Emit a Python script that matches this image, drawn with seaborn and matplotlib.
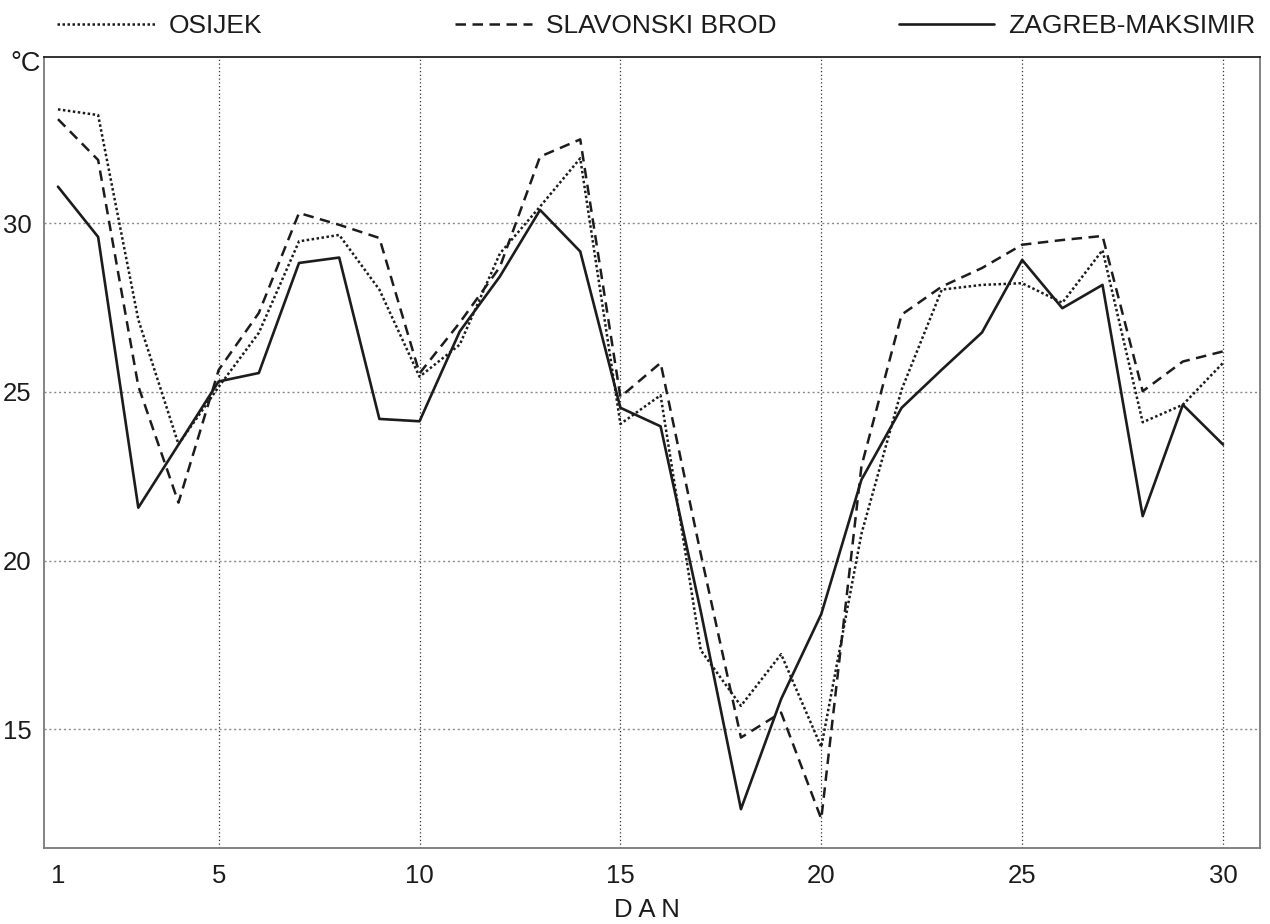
import matplotlib
matplotlib.use("Agg")
import matplotlib.pyplot as plt
import seaborn as sns
import pandas as pd

# Daily air temperature (°C) per station
days = list(range(1, 31))
osijek = [33.37, 33.2, 27.14, 23.45, 25.15, 26.75, 29.46, 29.65, 28.03, 25.45,
          26.4, 29.1, 30.49, 31.92, 24.05, 24.9, 17.35, 15.7, 17.23, 14.48,
          20.8, 25.07, 28.03, 28.17, 28.22, 27.64, 29.2, 24.1, 24.62, 25.86]
slavonski_brod = [33.08, 31.87, 25.17, 21.72, 25.65, 27.34, 30.3, 29.95, 29.56, 25.55,
                  27.05, 28.7, 31.97, 32.48, 24.85, 25.86, 20.2, 14.76, 15.5, 12.35,
                  22.8, 27.29, 28.12, 28.67, 29.36, 29.5, 29.62, 25.02, 25.9, 26.2]
zagreb = [31.08, 29.59, 21.57, 23.44, 25.31, 25.56, 28.82, 28.98, 24.2, 24.13,
          26.79, 28.42, 30.39, 29.16, 24.53, 23.98, 18.5, 12.64, 15.9, 18.42,
          22.4, 24.53, 25.66, 26.76, 28.91, 27.48, 28.17, 21.32, 24.62, 23.44]

stations = ["OSIJEK", "SLAVONSKI BROD", "ZAGREB-MAKSIMIR"]
x_ticks = [1, 5, 10, 15, 20, 25, 30]
y_ticks = [15, 20, 25, 30]

df = pd.concat([
    pd.DataFrame({"dan": days, "temp": osijek, "postaja": stations[0]}),
    pd.DataFrame({"dan": days, "temp": slavonski_brod, "postaja": stations[1]}),
    pd.DataFrame({"dan": days, "temp": zagreb, "postaja": stations[2]}),
])

sns.set_style("white")
plt.rcParams["font.family"] = ["Liberation Sans", "DejaVu Sans"]
ink = "#1c1c1c"

W, H = 1270, 924
fig = plt.figure(figsize=(W / 100, H / 100), dpi=100)
left, right, top, bottom = 44.3, 1260, 56.7, 848.3
ax = fig.add_axes([left / W, 1 - bottom / H, (right - left) / W, (bottom - top) / H])

styles = {
    stations[0]: (0, (1, 1)),
    stations[1]: (0, (4.2, 2.6)),
    stations[2]: "-",
}
widths = {stations[0]: 1.8, stations[1]: 1.8, stations[2]: 1.9}
lines = {}
for name in stations:
    sub = df[df["postaja"] == name]
    sns.lineplot(data=sub, x="dan", y="temp", ax=ax, color=ink, lw=widths[name],
                 linestyle=styles[name], legend=False)
    lines[name] = ax.get_lines()[-1]

ax.set_xlim(0.66, 30.92)
ax.set_ylim(11.48, 34.93)
ax.set_xticks(x_ticks)
ax.set_yticks(y_ticks)
ax.set_xticklabels([str(t) for t in x_ticks])
ax.set_yticklabels([str(t) for t in y_ticks])
ax.tick_params(axis="both", length=0, labelsize=18.5, colors=ink)
ax.tick_params(axis="x", pad=11)
ax.tick_params(axis="y", pad=9)
ax.set_xlabel("")
ax.set_ylabel("")

# dotted grid: darker verticals, lighter horizontals
ax.xaxis.grid(True, linestyle=(0, (1, 2)), color="#333333", lw=0.9)
ax.yaxis.grid(True, linestyle=(0, (1.5, 2)), color="#8a8a8a", lw=1.0)
ax.get_xgridlines()[0].set_visible(False)
ax.set_axisbelow(True)

for side in ["left", "right", "bottom"]:
    ax.spines[side].set_color("#7a7a7a")
    ax.spines[side].set_linewidth(1.3)
ax.spines["top"].set_color("#222222")
ax.spines["top"].set_linewidth(1.3)

fig.text(41 / W, 1 - 64 / H, "°C", ha="right", va="center", fontsize=19.5, color=ink)
fig.text(647 / W, 1 - 910 / H, "D A N", ha="center", va="center", fontsize=18.5, color=ink)

# one legend entry per station, spread across the top
legend_spots = [(57, 3.7), (455, 2.9), (899, 3.6)]
for name, (xpos, hl) in zip(stations, legend_spots):
    leg = fig.legend(handles=[lines[name]], labels=[name], loc="center left",
                     bbox_to_anchor=(xpos / W, 1 - 26 / H), frameon=False,
                     borderpad=0, borderaxespad=0, handlelength=hl,
                     handletextpad=0.55, fontsize=19)
    for t in leg.get_texts():
        t.set_color(ink)

fig.savefig("out.png", dpi=100, facecolor="white")
